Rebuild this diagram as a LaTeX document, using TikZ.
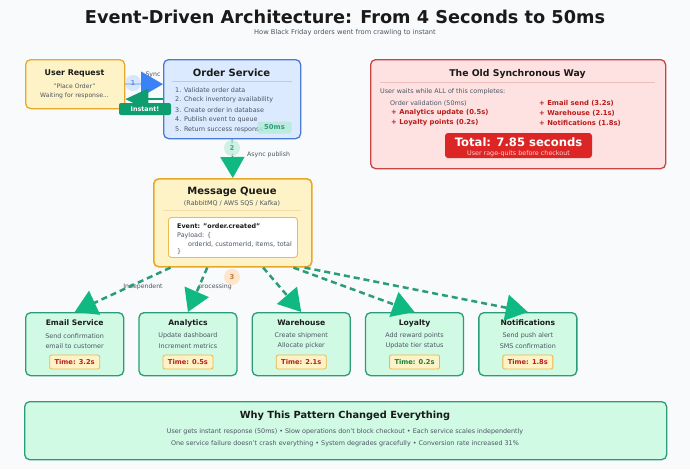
\documentclass[tikz,border=0pt]{standalone}
\usepackage{fontspec}
\setmainfont{DejaVu Sans}
\usetikzlibrary{arrows.meta,calc,positioning}
\definecolor{bgc}{HTML}{F9FAFB}
\definecolor{ink}{HTML}{1A1A1A}
\definecolor{soft}{HTML}{4B5563}
\definecolor{amberfill}{HTML}{FEF3C7}
\definecolor{amberline}{HTML}{E9A825}
\definecolor{bluefill}{HTML}{DBEAFE}
\definecolor{blueline}{HTML}{4A7BD6}
\definecolor{bluearr}{HTML}{3B82F6}
\definecolor{emer}{HTML}{10B981}
\definecolor{mintline}{HTML}{2A9D78}
\definecolor{mintfill}{HTML}{D1FAE5}
\definecolor{redfill}{HTML}{FEE2E2}
\definecolor{redline}{HTML}{C94545}
\definecolor{redtext}{HTML}{B91C1C}
\definecolor{redbox}{HTML}{DC2626}
\definecolor{greentext}{HTML}{15803D}
\newcommand{\fsz}[2]{\fontsize{#1}{#2}\selectfont}

\begin{document}
\begin{tikzpicture}[x=1pt,y=-1pt,
  every node/.style={inner sep=0pt,text=ink},
  panel/.style={draw,rounded corners=5pt,line width=1.3pt,anchor=north west},
  heading/.style={font=\fsz{10}{12}\bfseries},
  note/.style={text=soft,font=\fsz{6.4}{8}},
  listitem/.style={note,anchor=west},
  bubble/.style={circle,minimum size=16pt,fill opacity=0.75,font=\fsz{6.8}{8}\bfseries},
  badge/.style={rounded corners=2pt,minimum height=12pt},
  fanout/.style={mintline,line width=2.5pt,dash pattern=on 6pt off 4pt,
    -{Triangle[length=22pt,width=26pt,color=emer]}},
  oldplus/.style={anchor=west,text=redtext,font=\fsz{6.8}{8}\bfseries}
]
\fill[bgc] (0,0) rectangle (690,469);
\useasboundingbox (0,0) rectangle (690,469);

\node[font=\fsz{17.7}{20}\bfseries] (title) at (345,17) {Event-Driven Architecture: From 4 Seconds to 50ms};
\node[text=soft,font=\fsz{6.7}{8}] (subtitle) at (345,33) {How Black Friday orders went from crawling to instant};

\node[panel,draw=amberline,fill=amberfill,minimum width=99pt,minimum height=49pt] (user) at (25,59) {};
\node[font=\fsz{7.9}{9}\bfseries] (user-t) at (74.5,73) {User Request};
\node[note,font=\fsz{6.1}{7}] (user-a) at (74.5,86) {"Place Order"};
\node[note,font=\fsz{6.1}{7}] (user-b) at (74.5,96) {Waiting for response...};

\node[panel,draw=blueline,fill=bluefill,minimum width=137pt,minimum height=79pt] (order) at (163,59) {};
\node[heading] (order-t) at (231.5,73) {Order Service};
\draw[blueline!40,line width=0.6pt] (172,81) -- (292,81);
\node[listitem] (o1) at (175,90) {1. Validate order data};
\node[listitem] (o2) at (175,100) {2. Check inventory availability};
\node[listitem] (o3) at (175,110) {3. Create order in database};
\node[listitem] (o4) at (175,120) {4. Publish event to queue};
\node[listitem] (o5) at (175,130) {5. Return success response};
\node[badge,fill=emer!30,fill opacity=0.85,text opacity=1,minimum width=34pt,minimum height=12pt,
  text=mintline,font=\fsz{6.8}{8}\bfseries] (fast) at (274.5,127.5) {50ms};

\node[panel,draw=redline,fill=redfill,minimum width=295pt,minimum height=109pt] (old) at (370,59) {};
\node[font=\fsz{9.3}{11}\bfseries] (old-t) at (517.5,74) {The Old Synchronous Way};
\draw[redline!35,line width=0.6pt] (380,82) -- (655,82);
\node[listitem] (old-n) at (380,92) {User waits while ALL of this completes:};
\node[listitem] (ow0) at (390,103) {Order validation (50ms)};
\node[oldplus] (ow1) at (391,113) {+ Analytics update (0.5s)};
\node[oldplus] (ow2) at (391,123) {+ Loyalty points (0.2s)};
\node[oldplus] (ow3) at (539,103) {+ Email send (3.2s)};
\node[oldplus] (ow4) at (539,113) {+ Warehouse (2.1s)};
\node[oldplus] (ow5) at (539,123) {+ Notifications (1.8s)};
\node[rounded corners=3pt,fill=redbox,minimum width=147pt,minimum height=25pt] (total) at (518.5,145.5) {};
\node[text=white,font=\fsz{11.6}{13}\bfseries] (total-a) at (518.5,142) {Total: 7.85 seconds};
\node[text=red!20,font=\fsz{6.4}{7}] (total-b) at (518.5,154) {User rage-quits before checkout};

\node[panel,draw=amberline,fill=amberfill,line width=1.6pt,minimum width=158pt,minimum height=88pt] (mq) at (153,178) {};
\node[heading] (mq-t) at (232,192) {Message Queue};
\node[note] (mq-s) at (232,203.5) {(RabbitMQ / AWS SQS / Kafka)};
\draw[amberline!40,line width=0.6pt] (163,210) -- (301,210);
\node[panel,draw=amberline!80,fill=white,line width=0.9pt,rounded corners=3pt,minimum width=129pt,minimum height=40pt] (event) at (168,217) {};
\node[anchor=west,font=\fsz{6.4}{7}\bfseries] (ev-a) at (177,226) {Event: "order.created"};
\node[listitem] (ev-b) at (177,236) {Payload: \{};
\node[listitem] (ev-c) at (188,244) {orderId, customerId, items, total};
\node[listitem] (ev-d) at (177,252) {\}};

\foreach \i/\ttl/\la/\lb/\tm/\tc in {0/Email Service/Send confirmation/email to customer/3.2s/redtext,
  1/Analytics/Update dashboard/Increment metrics/0.5s/redtext,
  2/Warehouse/Create shipment/Allocate picker/2.1s/redtext,
  3/Loyalty/Add reward points/Update tier status/0.2s/greentext,
  4/Notifications/Send push alert/SMS confirmation/1.8s/redtext}{
  \node[panel,draw=mintline,fill=mintfill,minimum width=98pt,minimum height=63pt] (svc\i) at (25+113.3*\i,312) {};
  \node[font=\fsz{7.6}{9}\bfseries] (svc\i-t) at ($(svc\i.north)+(0,11)$) {\ttl};
  \node[note] (svc\i-a) at ($(svc\i.north)+(0,24)$) {\la};
  \node[note] (svc\i-b) at ($(svc\i.north)+(0,34)$) {\lb};
  \node[badge,draw=amberline!85,fill=amberfill,line width=0.8pt,minimum width=50pt,minimum height=14pt,
    text=\tc,font=\fsz{6.7}{8}\bfseries] (svc\i-c) at ($(svc\i.north)+(0,50)$) {Time: \tm};
}

\node[panel,draw=mintline,fill=mintfill,minimum width=642pt,minimum height=58pt] (why) at (24,401) {};
\node[font=\fsz{9.8}{11}\bfseries] (why-t) at (345,416) {Why This Pattern Changed Everything};
\node[note] (why-a) at (345,432) {User gets instant response (50ms) • Slow operations don't block checkout • Each service scales independently};
\node[note] (why-b) at (345,444) {One service failure doesn't crash everything • System degrades gracefully • Conversion rate increased 31\%};

\node[note,font=\fsz{6.2}{7}] (sync) at (153,75) {Sync};
\node[note,font=\fsz{6.2}{7}] (indep) at (143,287) {Independent};
\node[note,font=\fsz{6.2}{7}] (proc) at (215,287) {processing};
\node[note,font=\fsz{6.2}{7},anchor=west] (async) at (247,155) {Async publish};

\draw[bluearr,line width=2pt,-{Triangle[length=22pt,width=25pt]}] (user.east) -- (user.east -| order.west);
\draw[emer!85!black,line width=2pt,-{Triangle[length=23pt,width=21pt,color=emer!85!black]}] (order.west) -- (order.west -| user.east);
\draw[mintline,line width=1.6pt,dash pattern=on 4pt off 3pt,-{Triangle[length=21pt,width=24pt,color=emer]}] (order.south) -- (mq.north);
\foreach \i/\f in {0/0.11,1/0.34,2/0.69,3/0.88,4/0.95}
  \draw[fanout] ($(mq.south west)!\f!(mq.south east)$) -- (svc\i.north);

\node[badge,fill=emer!85!black,minimum width=52pt,text=white,font=\fsz{6.4}{7}\bfseries] (instant) at (145,109) {Instant!};
\node[bubble,fill=bluearr!25,text=blueline] (n1) at (133,83) {1};
\node[bubble,fill=emer!25,text=mintline] (n2) at (232,148) {2};
\node[bubble,fill=orange!25,text=orange!70!black] (n3) at (232,277) {3};
\end{tikzpicture}
\end{document}
